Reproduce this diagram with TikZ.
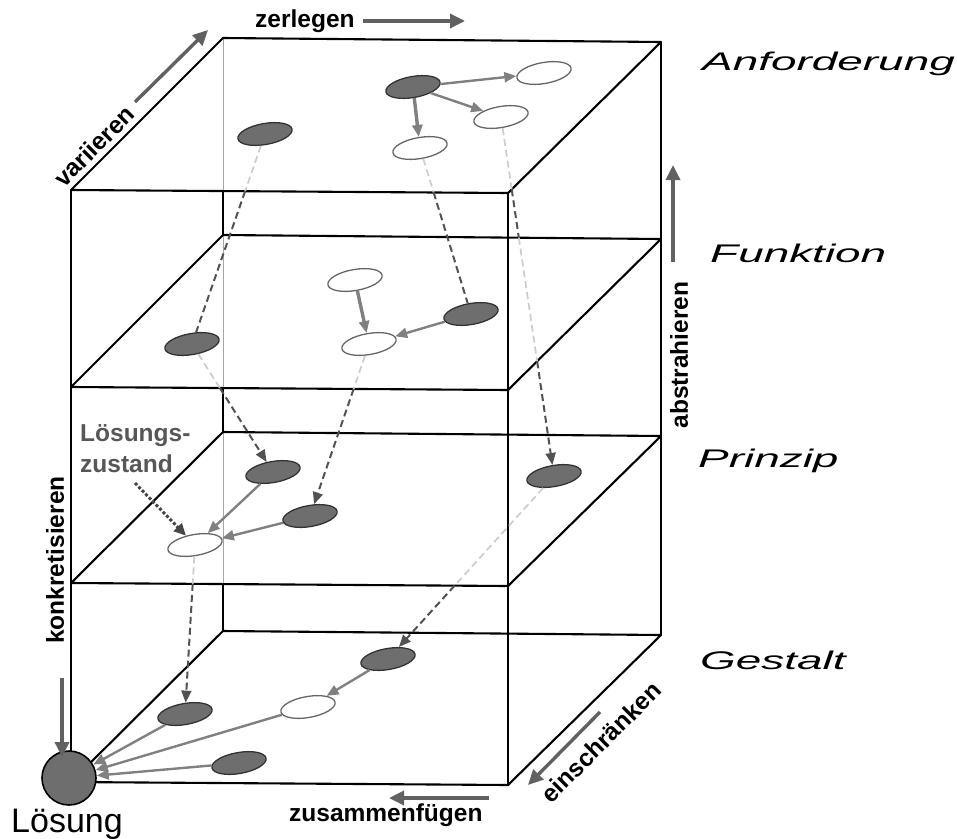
\documentclass[tikz,border=0pt]{standalone}
\usepackage{graphicx}
\usepackage{fontspec}
\setmainfont{Liberation Sans}
\usetikzlibrary{arrows.meta,shapes.geometric}

\begin{document}
\begin{tikzpicture}[x=1pt,y=-1pt,line join=round,
  edge/.style={line width=2.1pt,black},
  seen/.style={line width=0.9pt,black!35},
  full/.style={ellipse,draw=black!80,fill=black!57,line width=1.3pt,
    minimum width=55pt,minimum height=21pt,inner sep=0pt,rotate=10},
  empty/.style={ellipse,draw=black!60,fill=white,line width=1.3pt,
    minimum width=55pt,minimum height=21pt,inner sep=0pt,rotate=10},
  flow/.style={draw=black!50,line width=2.4pt,-{Triangle[length=12pt,width=10pt]}},
  flowthick/.style={flow,line width=3.4pt},
  down/.style={draw=black!68,line width=2pt,dash pattern=on 7pt off 4pt},
  downtip/.style={down,-{Triangle[length=12pt,width=10pt]}},
  faint/.style={draw=black!20,line width=1.7pt,dash pattern=on 7pt off 4pt},
  move/.style={draw=black!62,line width=3.4pt,-{Triangle[length=15pt,width=14pt]}},
  lbl/.style={font=\fontsize{24.5}{31}\selectfont\bfseries,inner sep=0pt},
  ital/.style={font=\fontsize{25.5}{30}\selectfont\itshape,inner sep=0pt,anchor=base west}]

\useasboundingbox (0,0) rectangle (957,838);

% corner points of the four layers (back left/right, front right/left)
\foreach \i/\yb/\yf in {1/38/190,2/235/387,3/432/583,4/631/782}{
  \coordinate (bl\i) at (223,\yb);
  \coordinate (br\i) at (661,\yb+4);
  \coordinate (fr\i) at (508,\yf+3);
  \coordinate (fl\i) at (71,\yf);
}

% back-left edge: faint where it is seen through a layer
\draw[seen] (bl1) -- (223,191);
\draw[edge] (223,191) -- (bl2);
\draw[seen] (bl2) -- (223,388);
\draw[edge] (223,388) -- (bl3);
\draw[seen] (bl3) -- (223,584);
\draw[edge] (223,584) -- (bl4);

% vertical edges
\draw[edge] (fl1) -- (fl4);
\draw[edge] (fr1) -- (fr4);
\draw[edge] (br1) -- (br4);

% layers
\foreach \i in {1,2,3,4}{
  \draw[edge] (bl\i) -- (br\i) -- (fr\i) -- (fl\i) -- cycle;
}

% layer 1: Anforderung
\node[full]  (a1) at (265,134) {};
\node[full]  (a2) at (413,87) {};
\node[empty] (a3) at (544,73) {};
\node[empty] (a4) at (501,117) {};
\node[empty] (a5) at (420,148) {};
% layer 2: Funktion
\node[full]  (b1) at (192,344) {};
\node[empty] (b2) at (355,280) {};
\node[empty] (b3) at (369,344) {};
\node[full]  (b4) at (471,314) {};
% layer 3: Prinzip
\node[full]  (c1) at (273,472) {};
\node[full]  (c2) at (310,516) {};
\node[empty] (c3) at (195,545) {};
\node[full]  (c4) at (554,476) {};
% layer 4: Gestalt
\node[full]  (d1) at (388,659) {};
\node[empty] (d2) at (308,707) {};
\node[full]  (d3) at (185,714) {};
\node[full]  (d4) at (239,763) {};

% solution
\node[circle,draw=black,fill=black!57,line width=1.6pt,minimum size=54pt,inner sep=0pt] (sol) at (69,778) {};

% links inside the layers
\draw[flow] (a2) -- (a3);
\draw[flow] (a2) -- (a4);
\draw[flowthick] (a2) -- (a5);
\draw[flowthick] (b2) -- (b3);
\draw[flow] (b4) -- (b3);
\draw[flow] (c1) -- (c3);
\draw[flow] (c2) -- (c3);
\draw[flow] (d1) -- (d2);
\draw[flow] (d3) -- (sol);
\draw[flow] (d2) -- (sol);
\draw[flow] (d4) -- (sol);

% links between the layers
\coordinate (s1) at (intersection of a1--b1 and fl1--fr1);
\draw[faint] (a1) -- (s1);
\draw[down] (s1) -- (b1);

\coordinate (s2) at (intersection of b1--c1 and fl2--fr2);
\draw[faint] (b1) -- (s2);
\draw[downtip] (s2) -- (c1);

\coordinate (s3) at (intersection of a5--b4 and fl1--fr1);
\draw[faint] (a5) -- (s3);
\draw[down] (s3) -- (b4);

\coordinate (s4) at (intersection of b3--c2 and fl2--fr2);
\draw[faint] (b3) -- (s4);
\draw[downtip] (s4) -- (c2);

\coordinate (s5) at (intersection of a4--c4 and fr1--br1);
\coordinate (s6) at (intersection of a4--c4 and bl2--br2);
\coordinate (s7) at (intersection of a4--c4 and br2--fr2);
\draw[faint] (a4) -- (s5);
\draw[down] (s5) -- (s6);
\draw[faint] (s6) -- (s7);
\draw[downtip] (s7) -- (c4);

\coordinate (s8) at (intersection of c4--d1 and fl3--fr3);
\draw[faint] (c4) -- (s8);
\draw[downtip] (s8) -- (d1);

\coordinate (s9) at (intersection of c3--d3 and fl3--fr3);
\draw[faint] (c3) -- (s9);
\draw[downtip] (s9) -- (d3);

% label of the solution state
\node[lbl,text=black!66,align=left,anchor=north west] (st) at (80,424) {Lösungs-\\zustand};
\coordinate (stend) at (135,483);
\draw[draw=black!72,line width=3pt,dotted,-{Triangle[length=12pt,width=11pt]}] (stend) -- (c3);

% layer names
\node[ital] (n1) at (702,70) {\scalebox{1.8}[1]{Anforderung}};
\node[ital] (n2) at (710,262) {\scalebox{1.8}[1]{Funktion}};
\node[ital] (n3) at (698,467) {\scalebox{1.8}[1]{Prinzip}};
\node[ital] (n4) at (700,669) {\scalebox{1.8}[1]{Gestalt}};

% operations
\node[lbl,anchor=base west] (zl) at (255,27) {zerlegen};
\coordinate (zl1) at (363,21); \coordinate (zl2) at (465,21);
\draw[move] (zl1) -- (zl2);

\node[lbl,rotate=45] (va) at (94,146) {variieren};
\coordinate (va1) at (135,102); \coordinate (va2) at (208,30);
\draw[move] (va1) -- (va2);

\node[lbl,rotate=90] (ab) at (679,355) {abstrahieren};
\coordinate (ab1) at (673,262); \coordinate (ab2) at (673,165);
\draw[move] (ab1) -- (ab2);

\node[lbl,rotate=90] (ko) at (55,560) {konkretisieren};
\coordinate (ko1) at (62,678); \coordinate (ko2) at (62,757);
\draw[move] (ko1) -- (ko2);

\node[lbl,rotate=45] (ei) at (601,742) {einschränken};
\coordinate (ei1) at (600,712); \coordinate (ei2) at (528,785);
\draw[move] (ei1) -- (ei2);

\node[lbl,anchor=base west] (zs) at (289,821) {zusammenfügen};
\coordinate (zs1) at (489,798); \coordinate (zs2) at (389,798);
\draw[move] (zs1) -- (zs2);

\node[inner sep=0pt,anchor=base west,font=\fontsize{34}{36}\selectfont] (ls) at (11,832) {Lösung};

\end{tikzpicture}
\end{document}
